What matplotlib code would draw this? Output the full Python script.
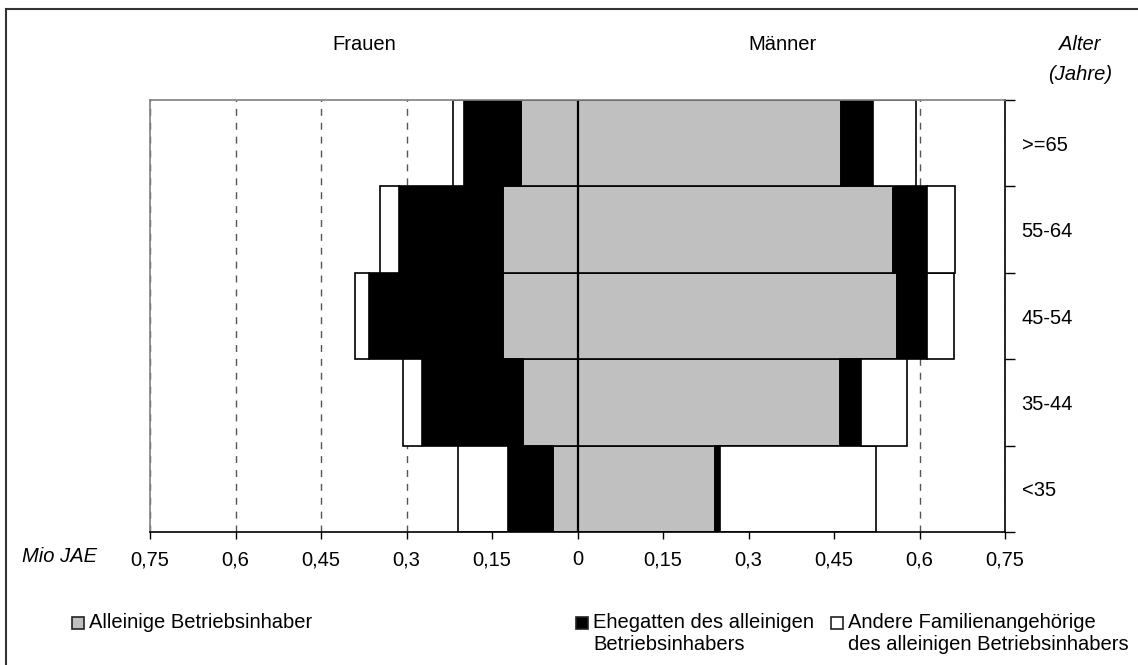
import numpy as np
import matplotlib.pyplot as plt
from matplotlib.patches import Rectangle
from matplotlib.lines import Line2D

plt.rcParams['font.family'] = ['Liberation Sans', 'DejaVu Sans']
plt.rcParams['font.size'] = 14.5

# age groups, bottom to top
ages = ['<35', '35-44', '45-54', '55-64', '>=65']

# Mio JAE, women (left side)
frauen_inhaber = [0.043, 0.096, 0.131, 0.131, 0.100]
frauen_ehegatten = [0.079, 0.177, 0.234, 0.183, 0.100]
frauen_andere = [0.087, 0.033, 0.025, 0.033, 0.018]

# Mio JAE, men (right side)
maenner_inhaber = [0.241, 0.460, 0.561, 0.554, 0.463]
maenner_ehegatten = [0.009, 0.037, 0.053, 0.059, 0.056]
maenner_andere = [0.274, 0.081, 0.047, 0.050, 0.075]

xticks = [-0.75, -0.6, -0.45, -0.3, -0.15, 0, 0.15, 0.3, 0.45, 0.6, 0.75]
xticklabels = ['0,75', '0,6', '0,45', '0,3', '0,15', '0', '0,15', '0,3', '0,45', '0,6', '0,75']

legend_labels = [['Alleinige Betriebsinhaber'],
                 ['Ehegatten des alleinigen', 'Betriebsinhabers'],
                 ['Andere Familienangehörige', 'des alleinigen Betriebsinhabers']]

W, H = 1138, 665
fig = plt.figure(figsize=(W / 100, H / 100), dpi=100)


def fx(x):
    return x / W


def fy(y):
    return 1 - y / H


ax = fig.add_axes([fx(150), fy(532), fx(1005) - fx(150), fy(100) - fy(532)])

y = np.arange(len(ages))
fi = np.array(frauen_inhaber)
fe = np.array(frauen_ehegatten)
fa = np.array(frauen_andere)
mi = np.array(maenner_inhaber)
me = np.array(maenner_ehegatten)
ma = np.array(maenner_andere)

gray = '#c0c0c0'
kw = dict(height=1.0, edgecolor='black', linewidth=1.2, zorder=3)

# women, drawn to the left
ax.barh(y, -fi, color=gray, **kw)
ax.barh(y, -fe, left=-fi, color='black', **kw)
ax.barh(y, -fa, left=-(fi + fe), color='white', **kw)

# men, drawn to the right
ax.barh(y, mi, color=gray, **kw)
ax.barh(y, me, left=mi, color='black', **kw)
ax.barh(y, ma, left=mi + me, color='white', **kw)

ax.axvline(0, color='black', linewidth=1.6, zorder=4)

ax.set_xlim(-0.75, 0.75)
ax.set_ylim(-0.5, len(ages) - 0.5)

ax.set_xticks(xticks)
ax.set_xticklabels(xticklabels)
ax.tick_params(axis='x', direction='out', length=5, width=1, pad=8)

ax.set_axisbelow(True)
ax.xaxis.grid(True, linestyle=(0, (5, 5)), color='#555555', linewidth=1)

# age labels on the right, ticks on category boundaries
ax.yaxis.tick_right()
ax.set_yticks(y)
ax.set_yticklabels(ages)
ax.set_yticks(np.arange(-0.5, len(ages)), minor=True)
ax.tick_params(axis='y', which='major', length=0, pad=12)
ax.tick_params(axis='y', which='minor', direction='out', length=7, width=1,
               right=True, left=False)

ax.spines['left'].set_color('#808080')
ax.spines['top'].set_color('#808080')
ax.spines['right'].set_color('black')
ax.spines['bottom'].set_color('black')
for s in ax.spines.values():
    s.set_linewidth(1.2)
    s.set_zorder(5)

# header texts
fig.text(fx(364), fy(45), 'Frauen', ha='center', va='center')
fig.text(fx(783), fy(45), 'Männer', ha='center', va='center')
fig.text(fx(1080), fy(45), 'Alter', ha='center', va='center', style='italic')
fig.text(fx(1080), fy(74), '(Jahre)', ha='center', va='center', style='italic')
fig.text(fx(60), fy(557), 'Mio JAE', ha='center', va='center', style='italic')

# legend
leg_colors = [gray, 'black', 'white']
leg_x = [72, 576, 831]
for cx, col, lines in zip(leg_x, leg_colors, legend_labels):
    fig.add_artist(Rectangle((fx(cx), fy(629)), 12 / W, 12 / H, facecolor=col,
                             edgecolor='#222222', linewidth=1.2,
                             transform=fig.transFigure))
    for i, line in enumerate(lines):
        fig.text(fx(cx + 17), fy(623 + 22 * i), line, ha='left', va='center')

# outer frame (left and top)
fig.add_artist(Line2D([fx(6), fx(6)], [fy(9), 0], color='#333333', linewidth=1.5,
                      transform=fig.transFigure))
fig.add_artist(Line2D([fx(6), 1], [fy(9), fy(9)], color='#333333', linewidth=1.5,
                      transform=fig.transFigure))

fig.savefig('out.png', dpi=100)
